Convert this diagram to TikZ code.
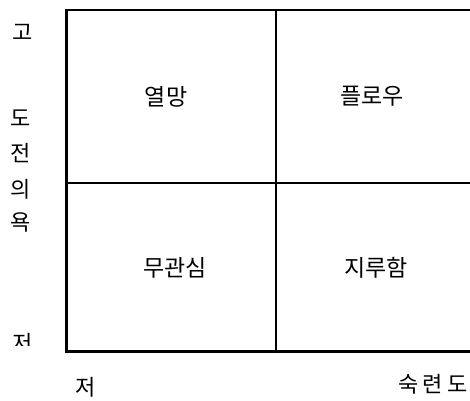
\documentclass[tikz,border=0pt]{standalone}
\usepackage{fontspec}
\setmainfont{Noto Sans CJK KR}
\begin{document}
\begin{tikzpicture}[x=1bp,y=-1bp,
  grid/.style={line width=2.6bp,black},
  lbl/.style={font=\fontsize{23bp}{25bp}\selectfont,inner sep=0pt},
  ax/.style={font=\fontsize{22bp}{24bp}\selectfont,inner sep=0pt}]
\useasboundingbox (0,0) rectangle (470,400);
\coordinate (tl) at (66.5,10);
\coordinate (tr) at (470,10);
\coordinate (bl) at (66.5,351.5);
\coordinate (br) at (470,351.5);
\coordinate (mt) at (276,10);
\coordinate (mb) at (276,351.5);
\coordinate (ml) at (66.5,183);
\coordinate (mr) at (470,183);
\draw[grid] (tr) -- (tl) -- (bl) -- (br);
\draw[grid] (mt) -- (mb);
\draw[grid] (ml) -- (mr);
\node[lbl] (c1) at (166,97) {열망};
\node[lbl] (c2) at (372,96) {플로우};
\node[lbl] (c3) at (175,268) {무관심};
\node[lbl] (c4) at (376,268) {지루함};
\node[ax] (yh) at (23,32) {고};
\node[ax] (y1) at (21,118) {도};
\node[ax] (y2) at (21,153) {전};
\node[ax] (y3) at (21,189) {의};
\node[ax] (y4) at (21,222) {욕};
\begin{scope}
\clip (0,320) rectangle (60,345);
\node[ax] (ylow) at (23,343) {저};
\end{scope}
\node[ax] (xl) at (86,387) {저};
\node[ax] (xh) at (433,384) {숙\hspace{4bp}련\hspace{4bp}도};
\end{tikzpicture}
\end{document}
